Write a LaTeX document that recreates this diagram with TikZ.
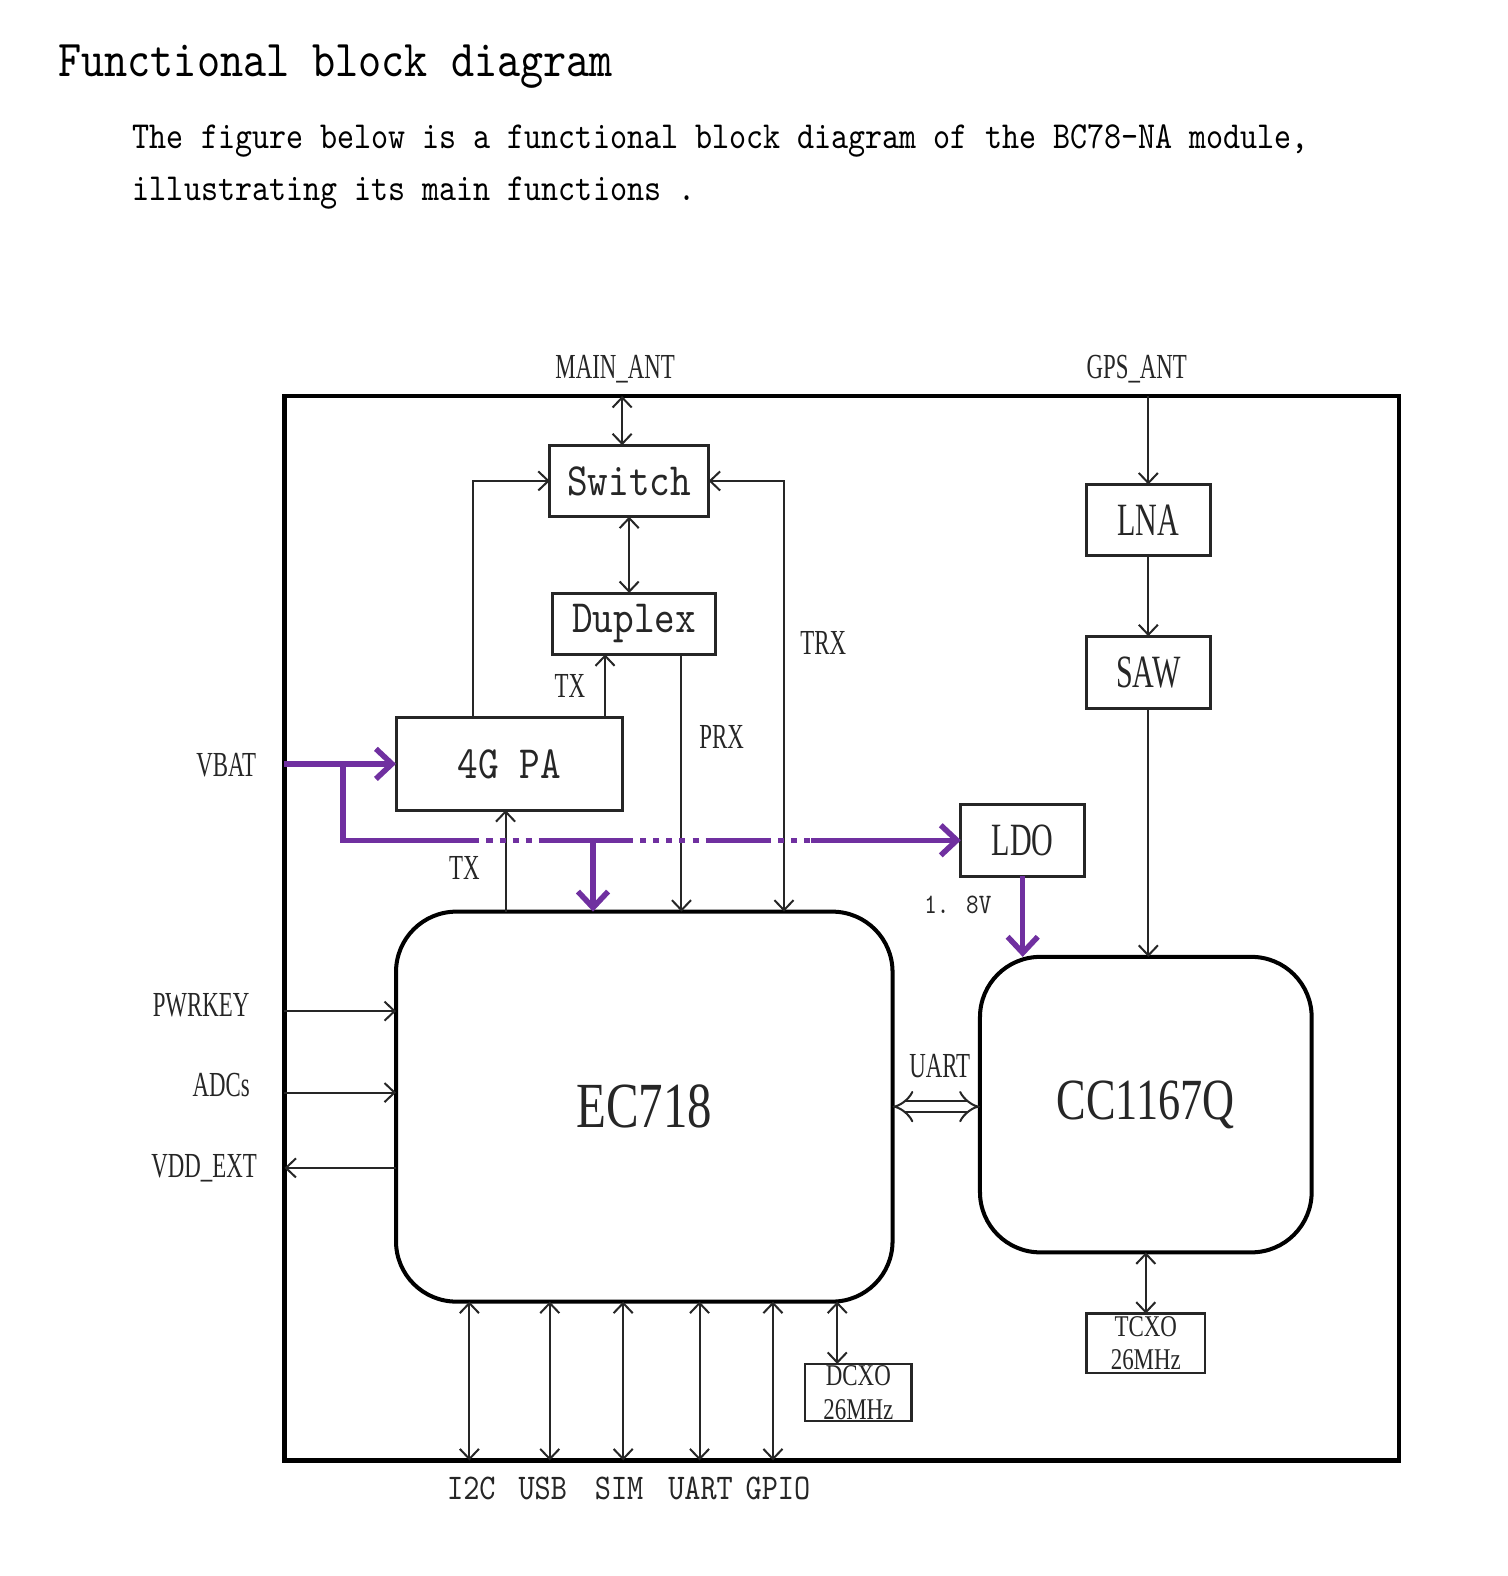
\documentclass[tikz,border=0pt]{standalone}
\usepackage{fontspec}
\usepackage{tikz}
\usetikzlibrary{arrows.meta,positioning,calc}
\newfontfamily\bcserif[FakeStretch=0.65]{Liberation Serif}
\newfontfamily\bcwide[FakeStretch=0.76]{Liberation Serif}
\newfontfamily\bcmono[FakeStretch=0.85]{lmmono10-regular.otf}
\definecolor{Ink}{HTML}{262626}
\definecolor{Power}{HTML}{7030A0}
\tikzset{
bcframe/.style={draw=black, line width=4.5pt, inner sep=0pt, outer sep=0pt},
bcblock/.style={draw=Ink, line width=3pt, inner sep=0pt, outer sep=0pt, text=Ink},
bcchip/.style={draw=black, line width=4pt, rounded corners=60pt, inner sep=0pt, outer sep=0pt, text=Ink, font=\bcwide\fontsize{64}{68}\selectfont},
bcxo/.style={draw=Ink, line width=2.5pt, inner sep=0pt, outer sep=0pt, align=center, text=Ink, font=\bcwide\fontsize{30}{33}\selectfont},
bclabel/.style={inner sep=0pt, text=Ink, font=\bcserif\fontsize{35}{38}\selectfont},
bcmonolabel/.style={inner sep=0pt, text=Ink, font=\bcmono\fontsize{36}{40}\selectfont},
bcsig/.style={draw=Ink, line width=2pt},
bcpwr/.style={draw=Power, line width=5.5pt},
bcpwrdot/.style={bcpwr, dash pattern=on 6pt off 7pt, dash phase=6pt},
bcpwrarrow/.style={bcpwr, -{Straight Barb[length=16pt,width=30pt]}},
bcuart/.style={draw=Ink, line width=2pt, double, double distance=9pt, {Implies}-{Implies}}
}
\begin{document}
\begin{tikzpicture}[x=1pt, y=-1pt, >={Straight Barb[length=10pt,width=19pt]}]
  \useasboundingbox (0,0) rectangle (1500,1568);
  % heading
  \node[anchor=west, inner sep=0pt, font=\bcmono\fontsize{51.5}{56}\selectfont] (title) at (58,66) {Functional block diagram};
  \node[anchor=west, inner sep=0pt, align=left, font=\bcmono\fontsize{38}{51}\selectfont] (intro) at (132,166) {The figure below is a functional block diagram of the BC78-NA module,\\illustrating its main functions .};
  % module frame
  \node[bcframe, minimum width=1109pt, minimum height=1059pt] (module) at (837.5,923.5) {};
  % LTE front end
  \node[bcblock, minimum width=158pt, minimum height=71pt, font=\bcmono\fontsize{46}{50}\selectfont] (switch) at (626,478.5) {Switch};
  \node[bcblock, minimum width=162pt, minimum height=61pt, font=\bcmono\fontsize{46}{50}\selectfont] (duplex) at (631,620.5) {Duplex};
  \node[bcblock, minimum width=225pt, minimum height=92pt, font=\bcmono\fontsize{46}{50}\selectfont] (pa) at (506.5,760) {4G PA};
  \node[bcblock, minimum width=123pt, minimum height=72pt, font=\bcserif\fontsize{46}{50}\selectfont] (ldo) at (1017.5,836) {LDO};
  % GNSS chain
  \node[bcblock, minimum width=123pt, minimum height=71pt, font=\bcserif\fontsize{46}{50}\selectfont] (lna) at (1142.5,517.5) {LNA};
  \node[bcblock, minimum width=123pt, minimum height=72pt, font=\bcserif\fontsize{46}{50}\selectfont] (saw) at (1142.5,669) {SAW};
  % chips
  \node[bcchip, minimum width=494pt, minimum height=388pt] (ec) at (641,1101) {EC718};
  \node[bcchip, minimum width=330pt, minimum height=294pt, font=\bcwide\fontsize{58}{62}\selectfont] (cc) at (1140,1099) {CC1167Q};
  \node[bcxo, minimum width=106pt, minimum height=57pt] (dcxo) at (854,1385.5) {DCXO\\26MHz};
  \node[bcxo, minimum width=118pt, minimum height=59pt] (tcxo) at (1140,1336.5) {TCXO\\26MHz};
  % labels
  \node[bclabel] (lmain) at (612,367) {MAIN\_ANT};
  \node[bclabel] (lgps) at (1131,367) {GPS\_ANT};
  \node[bclabel] (ltx) at (567,682) {TX};
  \node[bclabel] (lprx) at (718,733) {PRX};
  \node[bclabel] (ltrx) at (819,640) {TRX};
  \node[bclabel] (ltxd) at (462,864) {TX};
  \node[bclabel] (lvbat) at (225,761) {VBAT};
  \node[inner sep=0pt, text=Ink, font=\bcmono\fontsize{28}{32}\selectfont] (lvout) at (953,900) {1. 8V};
  \node[bclabel] (luart) at (935,1061) {UART};
  \node[bclabel] (lpwrkey) at (200,1000) {PWRKEY};
  \node[bclabel] (ladc) at (220,1080) {ADCs};
  \node[bclabel] (lvdd) at (203,1162) {VDD\_EXT};
  % columns
  \coordinate (xAnt) at (619,394);
  \coordinate (xPaSw) at (471,0);
  \coordinate (xTx) at (602,0);
  \coordinate (xTxd) at (503,0);
  \coordinate (xPrx) at (678,0);
  \coordinate (xTrx) at (780,0);
  \coordinate (xPwr) at (590,0);
  \coordinate (xDc) at (833,0);
  \coordinate (yPk) at (0,1006);
  \coordinate (yAdc) at (0,1087);
  \coordinate (yVdd) at (0,1162);
  % RF paths
  \draw[bcsig, <->] (xAnt) -- (switch.north -| xAnt);
  \draw[bcsig, <->] (switch.south) -- (switch.south |- duplex.north);
  \draw[bcsig, ->] (pa.north -| xPaSw) |- (switch.west);
  \draw[bcsig, ->] (pa.north -| xTx) -- (duplex.south -| xTx);
  \draw[bcsig, ->] (ec.north -| xTxd) -- (pa.south -| xTxd);
  \draw[bcsig, ->] (duplex.south -| xPrx) -- (ec.north -| xPrx);
  \draw[bcsig, <->] (switch.east) -| (ec.north -| xTrx);
  \draw[bcsig, ->] (module.north -| lna) -- (lna.north);
  \draw[bcsig, ->] (lna.south) -- (saw.north);
  \draw[bcsig, ->] (saw.south) -- (saw.south |- cc.north);
  % power
  \coordinate (pwrTee) at (341,760);
  \foreach \n/\x in {a/477,b/537,c/630,d/703,e/767,f/807}
    \coordinate (bus\n) at (\x,836);
  \draw[bcpwrarrow] (module.west |- pa.west) -- (pa.west);
  \draw[bcpwr] (pwrTee) |- (busa);
  \draw[bcpwrdot] (busa) -- (busb);
  \draw[bcpwr] (busb) -- (busc);
  \draw[bcpwrdot] (busc) -- (busd);
  \draw[bcpwr] (busd) -- (buse);
  \draw[bcpwrdot] (buse) -- (busf);
  \draw[bcpwrarrow] (busf) -- (ldo.west);
  \draw[bcpwrarrow] (busb -| xPwr) -- (ec.north -| xPwr);
  \draw[bcpwrarrow] (ldo.south) -- (ldo.south |- cc.north);
  % side interfaces
  \draw[bcsig, ->] (module.west |- yPk) -- (ec.west |- yPk);
  \draw[bcsig, ->] (module.west |- yAdc) -- (ec.west |- yAdc);
  \draw[bcsig, ->] (ec.west |- yVdd) -- (module.west |- yVdd);
  \draw[bcuart] (ec.east) -- (ec.east -| cc.west);
  % bottom interfaces
  \foreach \n/\x/\lx/\t in {i2c/467/469/I2C, usb/547/540/USB, sim/620/616/SIM, uart/696/697/UART, gpio/769/774/GPIO} {
    \coordinate (c\n) at (\x,1453);
    \draw[bcsig, <->] (c\n |- ec.south) -- (c\n);
    \node[bcmonolabel] (l\n) at (\lx,1481) {\t};
  }
  \draw[bcsig, <->] (ec.south -| xDc) -- (dcxo.north -| xDc);
  \draw[bcsig, <->] (cc.south) -- (tcxo.north);
\end{tikzpicture}
\end{document}
